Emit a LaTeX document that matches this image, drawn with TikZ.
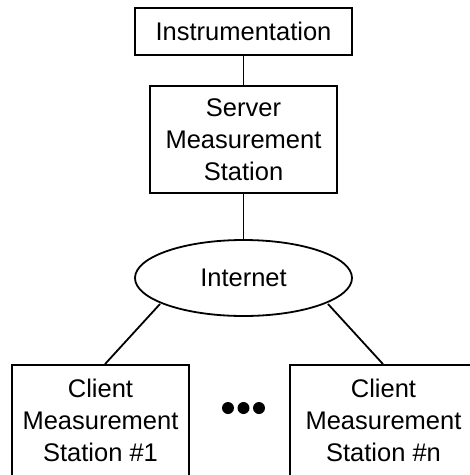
\documentclass[tikz,border=0pt]{standalone}
\usepackage{fontspec}
\setmainfont{Liberation Sans}
\usetikzlibrary{shapes.geometric}

\begin{document}
\begin{tikzpicture}[x=1pt, y=-1pt, line width=1.8pt,
  box/.style={draw, align=center, inner sep=0pt, font=\fontsize{25.5}{32}\selectfont}]
\useasboundingbox (0,0) rectangle (470,475);

\node[box, minimum width=217pt, minimum height=47pt] (instr) at (243.5,31.5) {Instrumentation};
\node[box, minimum width=187pt, minimum height=107pt] (server) at (243.5,139.5) {Server\\Measurement\\Station};
\node[box, ellipse, minimum width=217pt, minimum height=76pt] (net) at (243.5,278) {Internet};
\node[box, minimum width=177pt, minimum height=111pt] (c1) at (100.5,420.5) {Client\\Measurement\\Station \#1};
\node[box, minimum width=187pt, minimum height=111pt] (cn) at (383.5,420.5) {Client\\Measurement\\Station \#n};

% where the two client lines leave the ellipse
\coordinate (n1) at (160,304);
\coordinate (n2) at (328,304);

\draw (instr) -- (server);
\draw (server) -- (net);
\draw (n1) -- (c1.north -| 105,0);
\draw (n2) -- (cn.north -| 383,0);

% dots between the clients
\foreach \x in {228,243.5,259}
  \fill (\x,408) circle (6pt);
\end{tikzpicture}
\end{document}
